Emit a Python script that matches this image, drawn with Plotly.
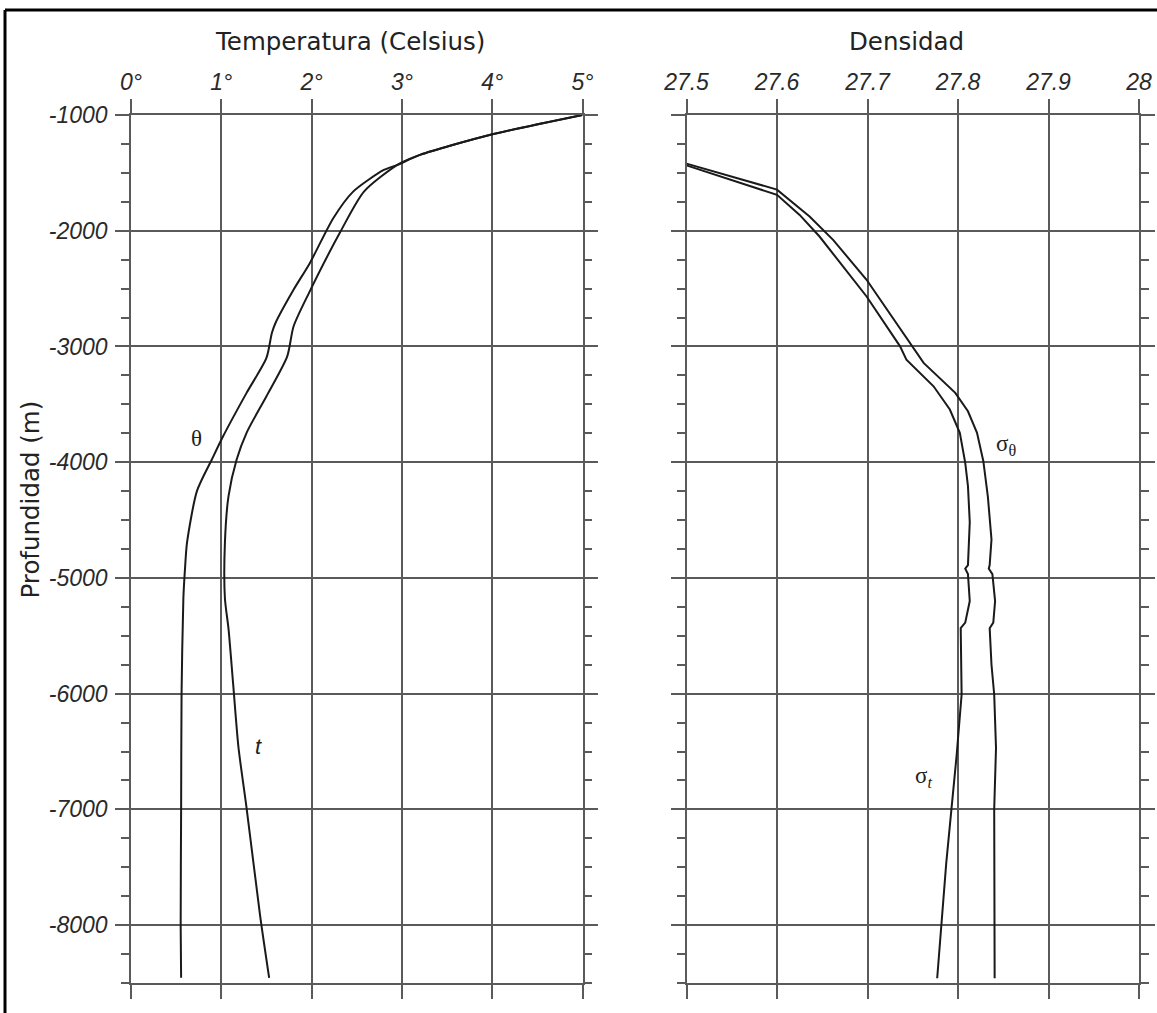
import plotly.graph_objects as go

# ---- Data ----
# Left panel: temperature (°C) vs depth (m)
depth_theta = [-1000, -1173, -1345, -1431, -1475, -1662, -1892, -2280, -2510, -2797, -2884, -3099,
               -3401, -3776, -3977, -4250, -4697, -4896, -5175, -6000, -7000, -8000, -8455]
theta = [5.0, 3.97, 3.20, 2.95, 2.80, 2.46, 2.24, 1.98, 1.80, 1.60, 1.56, 1.50,
         1.28, 1.02, 0.895, 0.73, 0.62, 0.60, 0.58, 0.56, 0.555, 0.55, 0.555]

depth_t = [-1000, -1173, -1345, -1431, -1662, -2007, -2539, -2827, -3085, -3430, -3746, -3977,
           -4293, -4697, -5175, -5440, -5905, -6463, -6988, -7919, -8455]
temp_t = [5.0, 3.97, 3.20, 2.95, 2.58, 2.32, 1.97, 1.80, 1.73, 1.50, 1.28, 1.17,
          1.08, 1.04, 1.04, 1.08, 1.13, 1.19, 1.28, 1.43, 1.53]

# Right panel: density vs depth (m)
depth_sigma_theta = [-1420, -1645, -1877, -2079, -2424, -2999, -3142, -3401, -3560, -3746, -3991,
                     -4297, -4667, -4889, -4920, -4967, -5200, -5386, -5434, -5750, -6007, -6470,
                     -6998, -8459]
sigma_theta = [27.50, 27.60, 27.636, 27.662, 27.699, 27.750, 27.762, 27.797, 27.811, 27.821, 27.828,
               27.833, 27.837, 27.835, 27.834, 27.838, 27.841, 27.839, 27.835, 27.837, 27.840, 27.842,
               27.840, 27.8405]

depth_sigma_t = [-1435, -1690, -1863, -2050, -2568, -2999, -3114, -3344, -3545, -3746, -4005,
                 -4207, -4518, -4889, -4920, -4967, -5200, -5386, -5434, -6007, -6532, -6998,
                 -7465, -8459]
sigma_t = [27.50, 27.60, 27.625, 27.647, 27.699, 27.736, 27.743, 27.773, 27.791, 27.802, 27.808,
           27.811, 27.813, 27.811, 27.808, 27.811, 27.813, 27.808, 27.803, 27.804, 27.7985, 27.793,
           27.787, 27.777]

temp_ticks = [0, 1, 2, 3, 4, 5]
temp_ticktext = ["0°", "1°", "2°", "3°", "4°", "5°"]
dens_ticks = [27.5, 27.6, 27.7, 27.8, 27.9, 28.0]
dens_ticktext = ["27.5", "27.6", "27.7", "27.8", "27.9", "28"]
depth_ticks = [-1000, -2000, -3000, -4000, -5000, -6000, -7000, -8000]
depth_ticktext = ["-1000", "-2000", "-3000", "-4000", "-5000", "-6000", "-7000", "-8000"]

# ---- Figure ----
W, H = 1157, 1013
LINE = "#1a1a1a"
GRID = "#5a5a5a"

fig = go.Figure()
fig.add_trace(go.Scatter(x=theta, y=depth_theta, mode="lines",
                         line=dict(color=LINE, width=2, shape="spline", smoothing=0.7),
                         xaxis="x", yaxis="y", showlegend=False, hoverinfo="skip"))
fig.add_trace(go.Scatter(x=temp_t, y=depth_t, mode="lines",
                         line=dict(color=LINE, width=2, shape="spline", smoothing=0.7),
                         xaxis="x", yaxis="y", showlegend=False, hoverinfo="skip"))
fig.add_trace(go.Scatter(x=sigma_theta, y=depth_sigma_theta, mode="lines", line=dict(color=LINE, width=2),
                         xaxis="x2", yaxis="y2", showlegend=False, hoverinfo="skip"))
fig.add_trace(go.Scatter(x=sigma_t, y=depth_sigma_t, mode="lines", line=dict(color=LINE, width=2),
                         xaxis="x2", yaxis="y2", showlegend=False, hoverinfo="skip"))

tickfont = dict(family="Liberation Sans, Arial, sans-serif", size=23, color="#2a2a2a", style="italic")

xcommon = dict(side="top", showline=True, linecolor=GRID, linewidth=1.5, mirror="ticks",
               ticks="outside", ticklen=14, tickwidth=1.5, tickcolor=GRID,
               showgrid=True, gridcolor=GRID, gridwidth=1.5, zeroline=False,
               tickfont=tickfont, automargin=False, fixedrange=True)
ycommon = dict(range=[-8500, -1000], domain=[1 - 983 / H, 1 - 115 / H],
               showline=True, linecolor=GRID, linewidth=1.5, mirror="ticks",
               ticks="outside", ticklen=14, tickwidth=1.5, tickcolor=GRID,
               tickvals=depth_ticks, ticktext=depth_ticktext,
               minor=dict(dtick=250, tick0=0, ticks="outside", ticklen=8, tickwidth=1.5,
                          tickcolor=GRID, showgrid=False),
               showgrid=True, gridcolor=GRID, gridwidth=1.5, zeroline=False,
               tickfont=tickfont, automargin=False, fixedrange=True)

fig.update_layout(
    width=W, height=H,
    margin=dict(l=0, r=0, t=0, b=0),
    paper_bgcolor="white", plot_bgcolor="white",
    showlegend=False,
    xaxis=dict(range=[0, 5], domain=[131 / W, 582.5 / W], anchor="y",
               tickvals=temp_ticks, ticktext=temp_ticktext, **xcommon),
    yaxis=dict(anchor="x", showticklabels=True, ticklabelstandoff=3, **ycommon),
    xaxis2=dict(range=[27.5, 28.0], domain=[686.5 / W, 1139 / W], anchor="y2",
                tickvals=dens_ticks, ticktext=dens_ticktext, **xcommon),
    yaxis2=dict(anchor="x2", showticklabels=False, **ycommon),
)

title_font = dict(family="DejaVu Sans, Verdana, sans-serif", size=24.5, color="#222222")
serif = dict(family="Liberation Serif, Times New Roman, serif", size=23, color="#222222")

annotations = [
    dict(text="Temperatura (Celsius)", x=350 / W, y=1 - 41 / H, xref="paper", yref="paper",
         showarrow=False, font=title_font, xanchor="center", yanchor="middle"),
    dict(text="Densidad", x=906 / W, y=1 - 41 / H, xref="paper", yref="paper",
         showarrow=False, font=title_font, xanchor="center", yanchor="middle"),
    dict(text="Profundidad (m)", x=29.5 / W, y=1 - 500 / H, xref="paper", yref="paper",
         showarrow=False, font=title_font, textangle=-90, xanchor="center", yanchor="middle"),
    dict(text="θ", x=0.73, y=-3792, xref="x", yref="y", showarrow=False, font=serif),
    dict(text="<i>t</i>", x=1.41, y=-6454, xref="x", yref="y", showarrow=False,
         font=dict(family="Liberation Sans, Arial, sans-serif", size=22, color="#222222")),
    dict(text="σ<sub>θ</sub>", x=27.853, y=-3850, xref="x2", yref="y2", showarrow=False, font=serif),
    dict(text="σ<sub><i>t</i></sub>", x=27.762, y=-6722, xref="x2", yref="y2", showarrow=False, font=serif),
]
fig.update_layout(annotations=annotations)

# outer frame (left and top edges visible in the reference)
fig.add_shape(type="line", xref="paper", yref="paper", x0=5 / W, x1=5 / W, y0=0, y1=1 - 10 / H,
              line=dict(color="black", width=3))
fig.add_shape(type="line", xref="paper", yref="paper", x0=5 / W, x1=1, y0=1 - 10 / H, y1=1 - 10 / H,
              line=dict(color="black", width=3))

fig.write_html("out.html", config={"displayModeBar": False},
               post_script="document.body.style.margin='0';document.body.style.overflow='hidden';")
